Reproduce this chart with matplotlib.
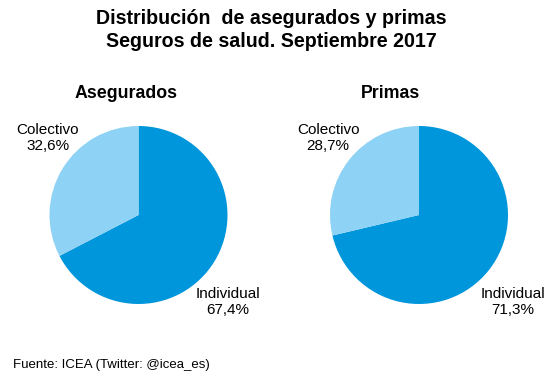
import matplotlib
matplotlib.use("Agg")
import matplotlib.pyplot as plt

plt.rcParams['font.family'] = ['Liberation Sans', 'DejaVu Sans']

title = "Distribución  de asegurados y primas\nSeguros de salud. Septiembre 2017"
categories = ["Individual", "Colectivo"]
panel_titles = ["Asegurados", "Primas"]
asegurados = [67.4, 32.6]
primas = [71.3, 28.7]
source = "Fuente: ICEA (Twitter: @icea_es)"

colors = ["#0096DB", "#8ED2F5"]

W, H = 560, 381
fig = plt.figure(figsize=(W / 100, H / 100), dpi=100)

fig.text(271 / W, 1 - 30 / H, title, ha="center", va="center",
         fontsize=14.1, fontweight="bold", linespacing=1.3)

r = 89
centers = [(138.5, 215), (419, 215)]
series = [asegurados, primas]
title_x = [126, 390]
label_pos = [
    [(1.006, -0.978), (-1.017, 0.865)],
    [(1.05, -0.978), (-1.02, 0.865)],
]

for i, (cx, cy) in enumerate(centers):
    ax = fig.add_axes([(cx - r) / W, (H - cy - r) / H, 2 * r / W, 2 * r / H])
    vals = series[i]
    ax.pie(vals, colors=colors, startangle=90, counterclock=False,
           radius=1, wedgeprops=dict(linewidth=0))
    ax.set_xlim(-1, 1)
    ax.set_ylim(-1, 1)
    ax.axis("off")
    for j, cat in enumerate(categories):
        lx, ly = label_pos[i][j]
        txt = f"{cat}\n{vals[j]:.1f}".replace(".", ",") + "%"
        ax.text(lx, ly, txt, ha="center", va="center", fontsize=11,
                linespacing=1.2, clip_on=False)
    fig.text(title_x[i] / W, 1 - 93 / H, panel_titles[i], ha="center",
             va="center", fontsize=12.8, fontweight="bold")

fig.text(13 / W, 1 - 365 / H, source, ha="left", va="center", fontsize=9.5)

fig.savefig("out.png", dpi=100)
